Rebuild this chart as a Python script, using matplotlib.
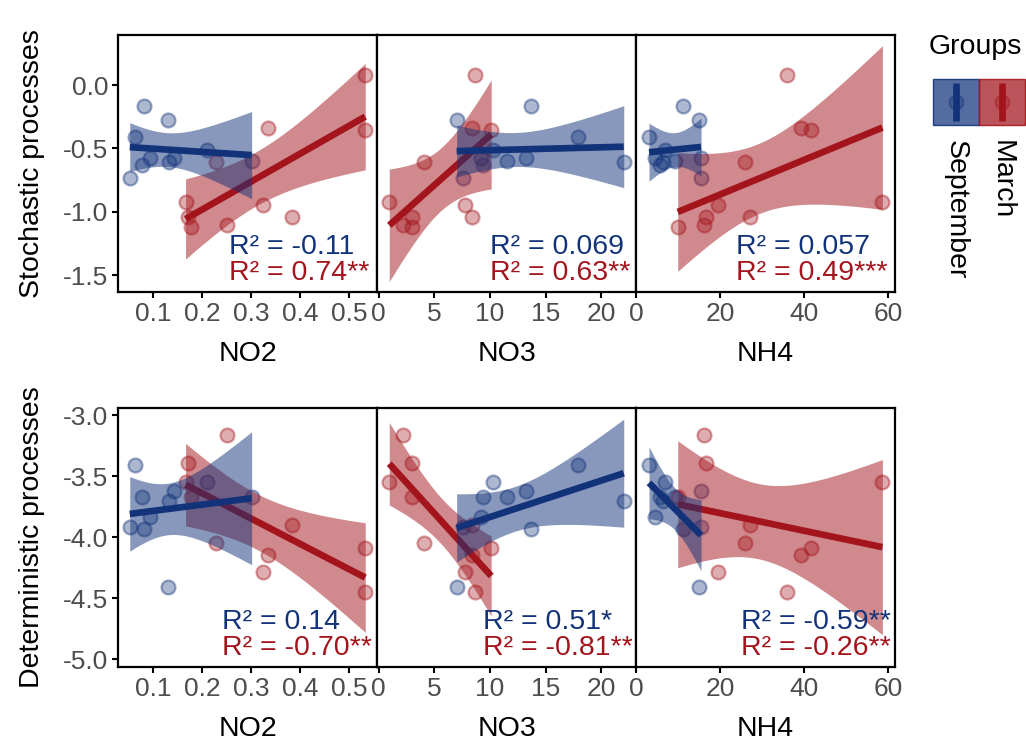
import numpy as np
import matplotlib.pyplot as plt
from matplotlib.colors import to_rgba
from matplotlib.patches import Rectangle

plt.rcParams['font.family'] = ['Liberation Sans', 'DejaVu Sans']

# September samples (same order in every array)
sep_no2 = [0.062, 0.076, 0.052, 0.082, 0.093, 0.142, 0.209, 0.301, 0.133, 0.131]
sep_no3 = [17.85, 9.4, 7.6, 13.65, 9.15, 13.2, 10.25, 11.5, 22.0, 7.0]
sep_nh4 = [3.0, 5.5, 15.4, 11.0, 4.5, 15.35, 6.9, 9.25, 6.3, 15.0]
sep_sto = [-0.413, -0.631, -0.729, -0.166, -0.579, -0.574, -0.513, -0.600, -0.605, -0.276]
sep_det = [-3.406, -3.666, -3.912, -3.934, -3.835, -3.617, -3.543, -3.671, -3.700, -4.404]

# March samples
mar_no2 = [0.533, 0.334, 0.533, 0.229, 0.166, 0.325, 0.383, 0.170, 0.250, 0.177]
mar_no3 = [8.65, 8.35, 10.1, 4.1, 0.95, 7.72, 8.35, 2.97, 2.15, 2.97]
mar_nh4 = [35.9, 39.3, 41.5, 25.8, 58.6, 19.4, 27.1, 16.5, 16.0, 9.85]
mar_sto = [0.079, -0.342, -0.355, -0.605, -0.920, -0.947, -1.040, -1.040, -1.105, -1.118]
mar_det = [-4.445, -4.144, -4.090, -4.048, -3.543, -4.281, -3.898, -3.392, -3.160, -3.671]

variables = ['NO2', 'NO3', 'NH4']
row_titles = ['Stochastic processes', 'Deterministic processes']

x_ticks = [[0.1, 0.2, 0.3, 0.4, 0.5], [0, 5, 10, 15, 20], [0, 20, 40, 60]]
x_ticklabels = [['0.1', '0.2', '0.3', '0.4', '0.5'], ['0', '5', '10', '15', '20'], ['0', '20', '40', '60']]
y_ticks = [[-1.5, -1.0, -0.5, 0.0], [-5.0, -4.5, -4.0, -3.5, -3.0]]
y_ticklabels = [['-1.5', '-1.0', '-0.5', '0.0'], ['-5.0', '-4.5', '-4.0', '-3.5', '-3.0']]

sep_r2 = [['R² = -0.11', 'R² = 0.069', 'R² = 0.057'],
          ['R² = 0.14', 'R² = 0.51*', 'R² = -0.59**']]
mar_r2 = [['R² = 0.74**', 'R² = 0.63**', 'R² = 0.49***'],
          ['R² = -0.70**', 'R² = -0.81**', 'R² = -0.26**']]

sep_color = '#12337A'
mar_color = '#A3141C'
grey = '#4D4D4D'
t_crit = 2.306  # t(0.975), df = 8

xlims = [(0.028, 0.557), (-0.15, 23.1), (-0.1, 61.6)]
ylims = [(-1.632, 0.395), (-5.063, -2.94)]
r2_xpos = [[0.428, 0.436, 0.388], [0.40, 0.41, 0.405]]

W, H = 1026, 744
fig = plt.figure(figsize=(W / 100, H / 100), dpi=100)

left, right = 118, 895
pw = (right - left) / 3
rows_px = [(35, 292), (408, 667)]


def points(ax, x, y, color):
    ax.scatter(x, y, s=100, facecolor=to_rgba(color, 0.35),
               edgecolor=to_rgba(color, 0.42), linewidth=1.6, zorder=2)


def smooth(ax, x, y, color):
    x = np.asarray(x)
    y = np.asarray(y)
    n = len(x)
    b, a = np.polyfit(x, y, 1)
    xs = np.linspace(x.min(), x.max(), 120)
    fit = a + b * xs
    resid = y - (a + b * x)
    s = np.sqrt(resid @ resid / (n - 2))
    se = s * np.sqrt(1 / n + (xs - x.mean()) ** 2 / ((x - x.mean()) ** 2).sum())
    ax.fill_between(xs, fit - t_crit * se, fit + t_crit * se, color=color,
                    alpha=0.5, linewidth=0, zorder=3)
    ax.plot(xs, fit, color=color, linewidth=4.8, solid_capstyle='butt', zorder=3)


sep_x = [sep_no2, sep_no3, sep_nh4]
mar_x = [mar_no2, mar_no3, mar_nh4]
sep_y = [sep_sto, sep_det]
mar_y = [mar_sto, mar_det]

for r in range(2):
    top, bot = rows_px[r]
    for c in range(3):
        ax = fig.add_axes([(left + c * pw) / W, 1 - bot / H, pw / W, (bot - top) / H])
        points(ax, sep_x[c], sep_y[r], sep_color)
        points(ax, mar_x[c], mar_y[r], mar_color)
        smooth(ax, mar_x[c], mar_y[r], mar_color)
        smooth(ax, sep_x[c], sep_y[r], sep_color)
        ax.set_xlim(*xlims[c])
        ax.set_ylim(*ylims[r])
        ax.set_xticks(x_ticks[c])
        ax.set_xticklabels(x_ticklabels[c])
        if c == 0:
            ax.set_yticks(y_ticks[r])
            ax.set_yticklabels(y_ticklabels[r])
        else:
            ax.set_yticks([])
        ax.tick_params(direction='out', length=4, width=1.5, labelsize=19,
                       labelcolor=grey, pad=3)
        for sp in ax.spines.values():
            sp.set_linewidth(1.6)
            sp.set_zorder(5)
        ax.set_xlabel(variables[c], fontsize=20.5, labelpad=11)
        ax.text(r2_xpos[r][c], 0.175, sep_r2[r][c], transform=ax.transAxes,
                color=sep_color, fontsize=20.5, ha='left', va='center', zorder=6)
        ax.text(r2_xpos[r][c], 0.075, mar_r2[r][c], transform=ax.transAxes,
                color=mar_color, fontsize=20.5, ha='left', va='center', zorder=6)
    fig.text(32 / W, 1 - (top + bot) / 2 / H, row_titles[r], rotation=90,
             fontsize=20.5, ha='center', va='center')

# legend
lax = fig.add_axes([0, 0, 1, 1])
lax.set_xlim(0, W)
lax.set_ylim(H, 0)
lax.axis('off')
lax.text(975, 47, 'Groups', fontsize=20.5, ha='center', va='center')
for i, (lab, col) in enumerate([('September', sep_color), ('March', mar_color)]):
    x0 = 933 + i * 46
    lax.add_patch(Rectangle((x0, 79), 46, 46, facecolor=to_rgba(col, 0.72),
                            edgecolor=to_rgba(col, 0.9), linewidth=1))
    lax.plot([x0 + 23, x0 + 23], [83, 121], color=col, linewidth=4.8, solid_capstyle='butt')
    lax.scatter([x0 + 23], [102], s=100, facecolor=to_rgba(col, 0.3),
                edgecolor=to_rgba(col, 0.4), linewidth=1.6)
    lax.text(x0 + 23, 140, lab, rotation=270, fontsize=20.5, ha='center', va='top')

fig.savefig('out.png', dpi=100)
